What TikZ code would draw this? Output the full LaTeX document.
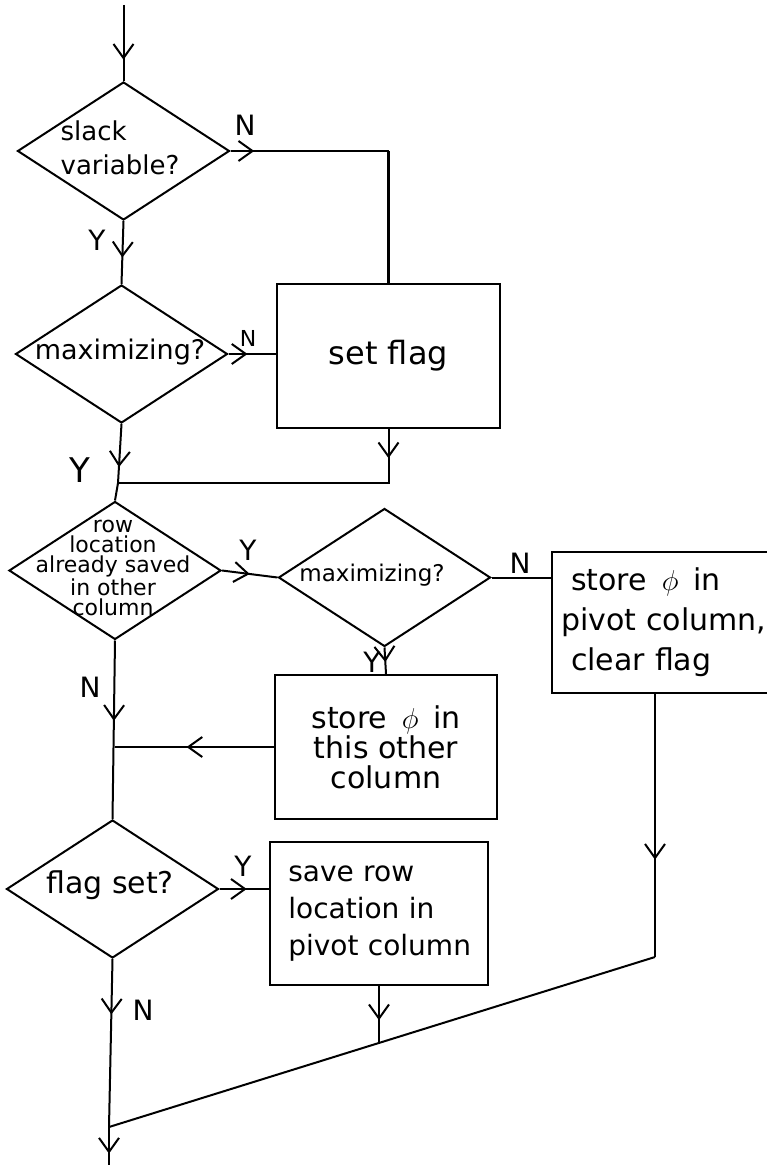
\documentclass[tikz,border=0pt]{standalone}
\usepackage{fontspec}
\setmainfont{DejaVu Sans}
\usetikzlibrary{arrows.meta, positioning, shapes.geometric, decorations.markings}

\tikzset{
  decision/.style={diamond, draw, line width=1pt, inner sep=0pt, minimum width=106pt, minimum height=69pt},
  process/.style={rectangle, draw, line width=1pt, inner sep=0pt},
  flow/.style={line width=1pt},
  midarrow/.style={postaction={decorate}, decoration={markings,
      mark=at position #1 with {\arrow{Straight Barb[length=7pt, width=10pt, line width=1pt]}}}},
  yn/.style={font=\fontsize{14}{14}\selectfont}
}

\begin{document}
\begin{tikzpicture}[x=0.5pt, y=-0.5pt]
    \useasboundingbox (0,0) rectangle (766,1165);

    % decisions
    \node[decision] (d1) at (123.5,151) {};
    \node[font=\fontsize{13}{17}\selectfont, align=left] (d1t) at (120,148) {slack\\variable?};
    \node[decision] (d2) at (121.5,354) {};
    \node[font=\fontsize{13.5}{14}\selectfont] (d2t) at (120,352) {maximizing?};
    \node[decision] (d3) at (115,570.5) {};
    \node[font=\fontsize{11}{10}\selectfont, align=center] (d3t) at (113,568)
        {row\\location\\already saved\\in other\\column};
    \node[decision] (d4) at (384.5,577.5) {};
    \node[font=\fontsize{11.5}{12}\selectfont] (d4t) at (372,575) {maximizing?};
    \node[decision] (d5) at (112.5,889) {};
    \node[font=\fontsize{15}{16}\selectfont] (d5t) at (110,885) {flag set?};

    % boxes
    \node[process, minimum width=111.5pt, minimum height=72pt, font=\fontsize{16}{17}\selectfont]
        (b1) at (388.5,356) {set flag};
    \node[process, minimum width=111pt, minimum height=72pt, align=center, font=\fontsize{15}{15}\selectfont]
        (b2) at (386,747) {store \,$\phi$\, in\\this other\\column};
    \node[process, minimum width=120pt, minimum height=70.5pt, text width=111pt, align=left, font=\fontsize{15}{20}\selectfont]
        (b3) at (672,622.5) {\ store \,$\phi$\, in\\pivot column,\\\ clear flag};
    \node[process, minimum width=109pt, minimum height=71.5pt, text width=100pt, align=left, font=\fontsize{14}{18.5}\selectfont]
        (b4) at (379,913.5) {\ save row\\\ location in\\\ pivot column};

    % joins
    \coordinate (start) at (123.5,5);
    \coordinate (c1) at (b1.north |- d1.east);
    \coordinate (m1) at (118,483);
    \coordinate (m2) at (d3.south |- b2.west);
    \coordinate (m3) at (655,957);
    \coordinate (m4) at (379,1043);
    \coordinate (m5) at (109,1127);
    \coordinate (stop) at (109,1165);

    % connectors
    \draw[flow, midarrow=0.72] (start) -- (d1.north);
    \draw[flow, midarrow=0.58] (d1.south) -- (d2.north);
    \draw[flow, midarrow=0.15] (d1.east) -- (c1);
    \draw[line width=1.8pt] (c1) -- (b1.north);
    \draw[flow, midarrow=0.4] (d2.east) -- (d2.east -| b1.west);
    \draw[flow, midarrow=0.09] (b1.south) |- (m1);
    \draw[flow, midarrow=0.73] (d2.south) -- (m1);
    \draw[flow] (m1) -- (d3.north);
    \draw[flow, midarrow=0.5] (d3.east) -- (d4.west);
    \draw[flow] (d4.east) -- (d4.east -| b3.west);
    \draw[flow, midarrow=0.55] (d4.south) -- (b2.north);
    \draw[flow, midarrow=0.45] (d3.south) -- (d5.north);
    \draw[flow, midarrow=0.55] (b2.west) -- (m2);
    \draw[flow, midarrow=0.55] (d5.east) -- (d5.east -| b4.west);
    \draw[flow, midarrow=0.63] (m3 |- b3.south) -- (m3);
    \draw[flow] (m3) -- (m5);
    \draw[flow, midarrow=0.6] (b4.south) -- (m4);
    \draw[flow, midarrow=0.33] (d5.south) -- (m5);
    \draw[flow, midarrow=0.7] (m5) -- (stop);

    % Y / N labels
    \node[yn] (n1) at (245,125) {N};
    \node[yn] (y1) at (97,240) {Y};
    \node[yn, font=\fontsize{11}{11}\selectfont] (n2) at (248,338) {N};
    \node[yn, font=\fontsize{17}{17}\selectfont] (y2) at (80,470) {Y};
    \node[yn] (y3) at (248,550) {Y};
    \node[yn] (n3) at (520,563) {N};
    \node[yn] (y4) at (372,662) {Y};
    \node[yn] (n4) at (90,687) {N};
    \node[yn] (y5) at (243,866) {Y};
    \node[yn] (n5) at (143,1010) {N};
\end{tikzpicture}
\end{document}
